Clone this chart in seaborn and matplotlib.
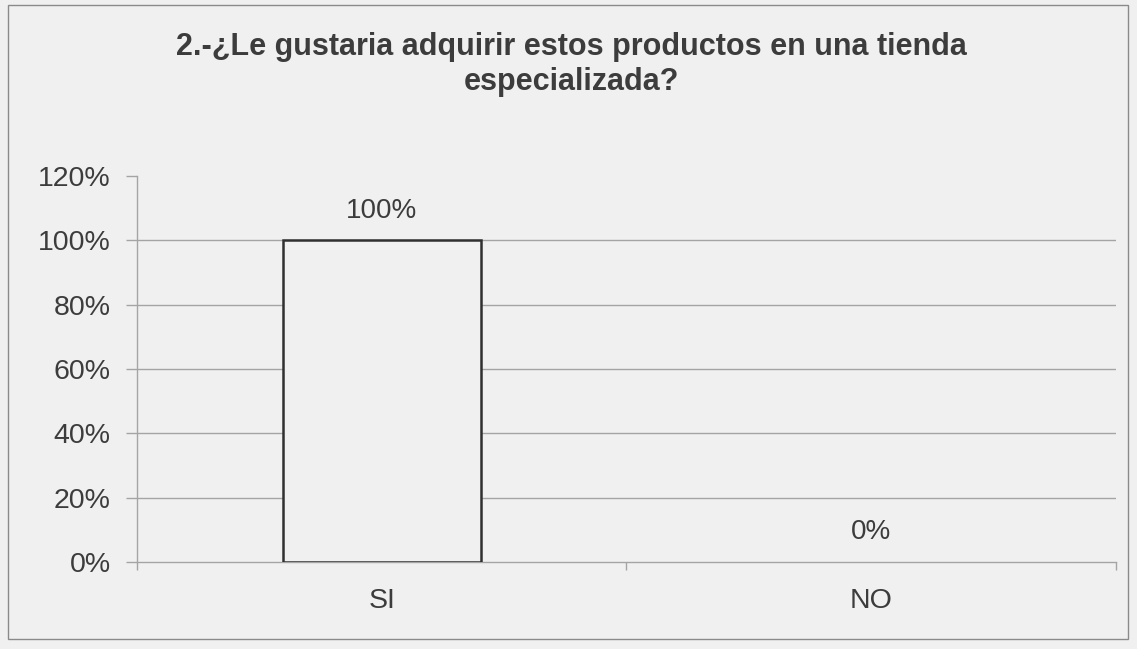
import matplotlib
matplotlib.use("Agg")
import matplotlib.pyplot as plt
import seaborn as sns
import pandas as pd
from matplotlib.patches import Rectangle
from matplotlib.ticker import FuncFormatter

# Survey answers
categories = ["SI", "NO"]
shares = [1.00, 0.00]
value_labels = ["100%", "0%"]
y_ticks = [0.0, 0.2, 0.4, 0.6, 0.8, 1.0, 1.2]
title = "2.-¿Le gustaria adquirir estos productos en una tienda\nespecializada?"

sns.set_theme(style="white")
plt.rcParams["font.family"] = ["Liberation Sans", "DejaVu Sans"]

bg = "#f0f0f0"
text_c = "#3c3c3c"
grid_c = "#a4a4a4"

fig = plt.figure(figsize=(11.37, 6.49), dpi=100, facecolor=bg)
ax = fig.add_axes([0.1205, 0.134, 0.861, 0.595])
ax.set_facecolor(bg)

df = pd.DataFrame({"respuesta": categories, "porcentaje": shares})
sns.barplot(data=df, x="respuesta", y="porcentaje", order=categories,
            color=bg, edgecolor="#303030", linewidth=1.8, width=0.405,
            saturation=1, ax=ax, zorder=3)
# a zero-height bar shows no outline
for patch in ax.patches:
    if patch.get_height() == 0:
        patch.set_linewidth(0)

ax.set_xlim(-0.5, 1.5)
ax.set_ylim(0, 1.2)
ax.set_yticks(y_ticks)
ax.yaxis.set_major_formatter(FuncFormatter(lambda v, _: f"{v*100:.0f}%"))
for v in y_ticks[1:-1]:
    ax.axhline(v, color=grid_c, linewidth=1.0, zorder=0)

for s in ["top", "right"]:
    ax.spines[s].set_visible(False)
for s in ["left", "bottom"]:
    ax.spines[s].set_color(grid_c)
    ax.spines[s].set_linewidth(1.0)

ax.tick_params(axis="y", which="major", length=8, width=1.0, color=grid_c,
               left=True, labelsize=20.5, labelcolor=text_c, pad=11)
ax.tick_params(axis="x", which="major", length=0, labelsize=20.5,
               labelcolor=text_c, pad=19)
ax.set_xticks([-0.5, 0.5, 1.5], minor=True)
ax.tick_params(axis="x", which="minor", length=6, width=1.0, color=grid_c,
               bottom=True)
ax.set_xlabel("")
ax.set_ylabel("")

for i, (v, lab) in enumerate(zip(shares, value_labels)):
    ax.annotate(lab, (i, v), xytext=(0, 12), textcoords="offset points",
                ha="center", va="bottom", fontsize=20, color=text_c)

fig.text(0.503, 0.9, title, ha="center", va="center", fontsize=22,
         fontweight="bold", color=text_c, linespacing=1.22)

fig.add_artist(Rectangle((0.007, 0.016), 0.985, 0.976, transform=fig.transFigure,
                         fill=False, edgecolor="#8a8a8a", linewidth=1.0))

fig.savefig("out.png", dpi=100, facecolor=bg)
